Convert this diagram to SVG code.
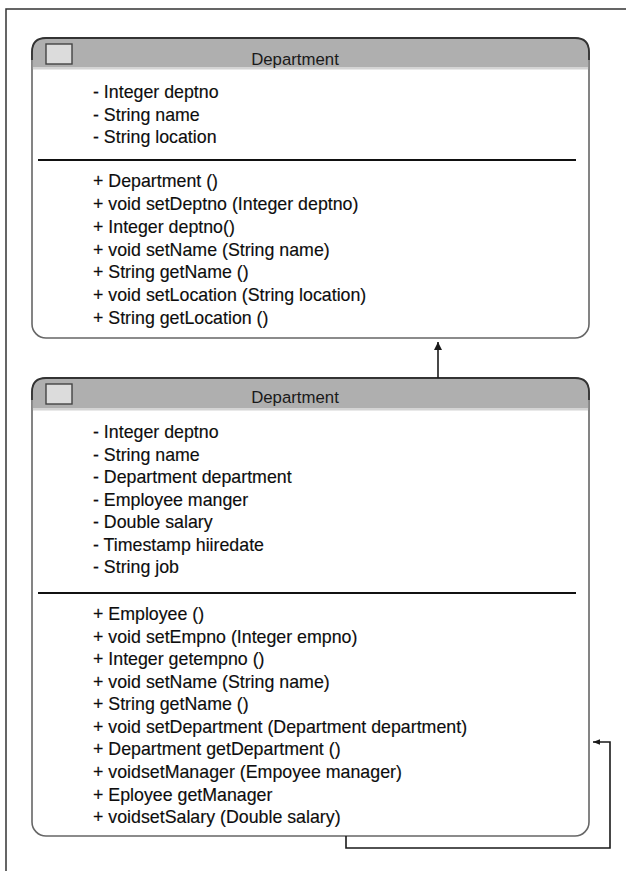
<svg xmlns="http://www.w3.org/2000/svg" width="626" height="871" viewBox="0 0 626 871">
<defs>
<style>
.t{font-family:"Liberation Sans",Arial,sans-serif;font-size:17.8px;fill:#0d0d0d;stroke:#0d0d0d;stroke-width:0.15}
.ti{font-family:"Liberation Sans",Arial,sans-serif;font-size:16.8px;fill:#1a1a1a;text-anchor:middle}
.box{fill:#fff;stroke:#666;stroke-width:1.6}
.hdr{fill:#afafaf}
.hl{fill:#d4d4d4}
.ico{fill:#dcdcdc;stroke:#444;stroke-width:1.4}
.div{stroke:#111;stroke-width:2}
.edge{fill:none;stroke:#1a1a1a;stroke-width:1.6}
.frame{fill:none;stroke:#333;stroke-width:1.5}
</style>
<marker id="ah" viewBox="0 0 10 10" refX="10" refY="5" markerWidth="8" markerHeight="8" orient="auto" markerUnits="userSpaceOnUse">
<path d="M0,0 L10,5 L0,10 Z" fill="#1a1a1a"/>
</marker>
<marker id="ah2" viewBox="0 0 10 10" refX="10" refY="5" markerWidth="7" markerHeight="7" orient="auto" markerUnits="userSpaceOnUse">
<path d="M0,1 L10,5 L0,9 Z" fill="#1a1a1a"/>
</marker>
</defs>
<path class="frame" d="M6,871 V9 H626"/>

<g id="department1">
<rect class="box" x="32" y="38" width="557" height="300" rx="14"/>
<path class="hdr" d="M32.8,69 V52 Q32.8,38.8 46,38.8 H575 Q588.2,38.8 588.2,52 V69 Z"/>
<rect class="hl" x="33" y="67" width="555" height="2.5"/>
<path d="M32,60 V52 Q32,38 46,38 H575 Q589,38 589,52 V60" fill="none" stroke="#333" stroke-width="1.8"/>
<rect class="ico" x="46" y="44" width="26" height="20"/>
<text class="ti" x="295" y="65">Department</text>
<text class="t" x="93" y="98">- Integer deptno</text>
<text class="t" x="93" y="120.5">- String name</text>
<text class="t" x="93" y="143">- String location</text>
<line class="div" x1="38" y1="160" x2="576" y2="160"/>
<text class="t" x="93" y="187">+ Department ()</text>
<text class="t" x="93" y="210">+ void setDeptno (Integer deptno)</text>
<text class="t" x="93" y="233">+ Integer deptno()</text>
<text class="t" x="93" y="255.5">+ void setName (String name)</text>
<text class="t" x="93" y="278">+ String getName ()</text>
<text class="t" x="93" y="301">+ void setLocation (String location)</text>
<text class="t" x="93" y="324">+ String getLocation ()</text>
</g>

<g id="department2">
<rect class="box" x="32" y="378" width="557" height="458" rx="14"/>
<path class="hdr" d="M32.8,410 V392 Q32.8,378.8 46,378.8 H575 Q588.2,378.8 588.2,392 V410 Z"/>
<rect class="hl" x="33" y="408" width="555" height="2.5"/>
<path d="M32,400 V392 Q32,378 46,378 H575 Q589,378 589,392 V400" fill="none" stroke="#333" stroke-width="1.8"/>
<rect class="ico" x="46" y="384" width="26" height="20"/>
<text class="ti" x="295" y="403">Department</text>
<text class="t" x="93" y="438">- Integer deptno</text>
<text class="t" x="93" y="460.5">- String name</text>
<text class="t" x="93" y="483">- Department department</text>
<text class="t" x="93" y="505.5">- Employee manger</text>
<text class="t" x="93" y="528">- Double salary</text>
<text class="t" x="93" y="550.5">- Timestamp hiiredate</text>
<text class="t" x="93" y="573">- String job</text>
<line class="div" x1="38" y1="593" x2="576" y2="593"/>
<text class="t" x="93" y="620">+ Employee ()</text>
<text class="t" x="93" y="642.6">+ void setEmpno (Integer empno)</text>
<text class="t" x="93" y="665">+ Integer getempno ()</text>
<text class="t" x="93" y="687.7">+ void setName (String name)</text>
<text class="t" x="93" y="710">+ String getName ()</text>
<text class="t" x="93" y="733">+ void setDepartment (Department department)</text>
<text class="t" x="93" y="755">+ Department getDepartment ()</text>
<text class="t" x="93" y="778">+ voidsetManager (Empoyee manager)</text>
<text class="t" x="93" y="800.5">+ Eployee getManager</text>
<text class="t" x="93" y="823">+ voidsetSalary (Double salary)</text>
</g>

<g id="connectors">
<line class="edge" x1="438" y1="378" x2="438" y2="342" marker-end="url(#ah)"/>
<path class="edge" d="M346,836 V848 H610 V742 H593" marker-end="url(#ah2)"/>
</g>
</svg>
